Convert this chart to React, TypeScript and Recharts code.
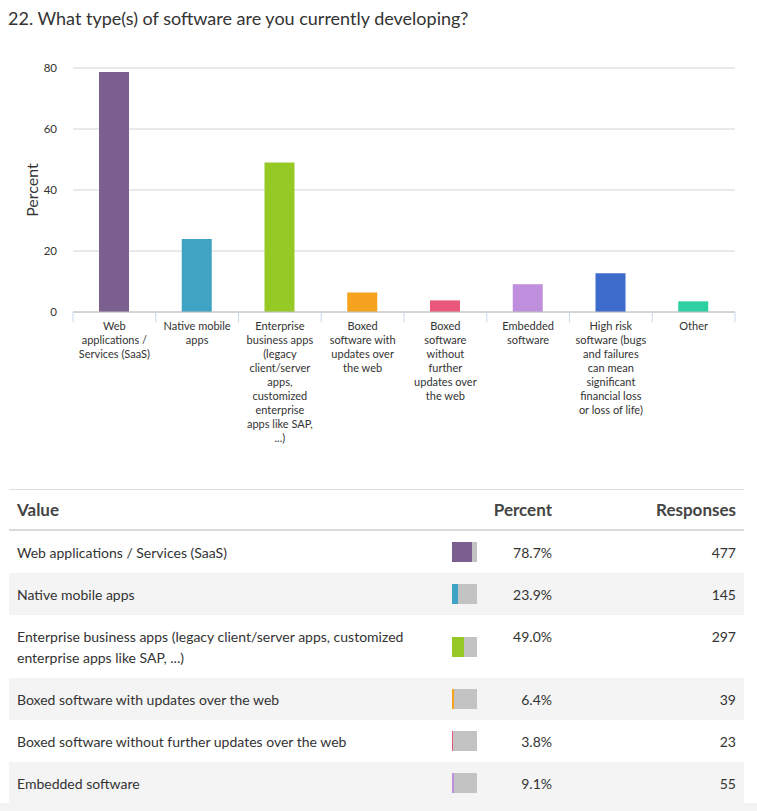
import React from 'react';
import { BarChart, Bar, XAxis, YAxis, CartesianGrid, Cell } from 'recharts';

// Survey question 22 – answer categories, as in the table below the chart
const categories = [
  'Web applications / Services (SaaS)',
  'Native mobile apps',
  'Enterprise business apps (legacy client/server apps, customized enterprise apps like SAP, ...)',
  'Boxed software with updates over the web',
  'Boxed software without further updates over the web',
  'Embedded software',
  'High risk software (bugs and failures can mean significant financial loss or loss of life)',
  'Other',
];

// wrapped x-axis tick labels (one array of lines per category)
const tickLines = [
  ['Web', 'applications /', 'Services (SaaS)'],
  ['Native mobile', 'apps'],
  ['Enterprise', 'business apps', '(legacy', 'client/server', 'apps,', 'customized', 'enterprise', 'apps like SAP,', '...)'],
  ['Boxed', 'software with', 'updates over', 'the web'],
  ['Boxed', 'software', 'without', 'further', 'updates over', 'the web'],
  ['Embedded', 'software'],
  ['High risk', 'software (bugs', 'and failures', 'can mean', 'significant', 'financial loss', 'or loss of life)'],
  ['Other'],
];

const percents = [78.7, 23.9, 49.0, 6.4, 3.8, 9.1, 12.7, 3.5];
const responses = [477, 145, 297, 39, 23, 55, 77, 21];
const colors = ['#7b5f8e', '#3fa3c3', '#96c926', '#f5a31e', '#e9587b', '#bf8fdd', '#3c6bcc', '#2ecfa1'];
const yTicks = [0, 20, 40, 60, 80];

// the screenshot is cropped: only the first 6 table rows are in view
const VISIBLE_ROWS = 6;

const FONT = 'Lato, "Open Sans", sans-serif';
const TEXT = '#333333';

const chartData = categories.map((name, i) => ({
  name,
  percent: percents[i],
  color: colors[i],
}));

// tick label with wrapped lines + tick marks on the category boundaries
const CategoryTick = (props: any) => {
  const { x, y, payload, index } = props;
  const half = payload?.offset ? payload.offset : 662 / categories.length / 2;
  const lines = tickLines[index] ?? [String(payload.value)];
  const isLast = index === categories.length - 1;
  return (
    <g>
      <line x1={x - half} x2={x - half} y1={y} y2={y + 10} stroke="#ccd6eb" />
      {isLast && <line x1={x + half} x2={x + half} y1={y} y2={y + 10} stroke="#ccd6eb" />}
      <text x={x} y={y + 18} textAnchor="middle" fill={TEXT} fontSize={11} fontFamily={FONT}>
        {lines.map((ln, i) => (
          <tspan key={i} x={x} dy={i === 0 ? 0 : 14}>
            {ln}
          </tspan>
        ))}
      </text>
    </g>
  );
};

const YLabel = (props: any) => {
  const vb = props.viewBox || {};
  const cx = (vb.x ?? 20) + 11;
  const cy = (vb.y ?? 18) + (vb.height ?? 244) / 2;
  return (
    <text
      x={cx}
      y={cy}
      transform={`rotate(-90, ${cx}, ${cy})`}
      textAnchor="middle"
      dominantBaseline="central"
      fill={TEXT}
      fontSize={16}
      fontFamily={FONT}
    >
      Percent
    </text>
  );
};

const MiniBar = ({ pct, color }: { pct: number; color: string }) => (
  <div style={{ width: 25, height: 20, background: '#c3c3c3', position: 'relative' }}>
    <div style={{ position: 'absolute', left: 0, top: 0, bottom: 0, width: `${pct}%`, background: color }} />
  </div>
);

const App: React.FC = () => {
  return (
    <div style={{ position: 'relative', width: 757, height: 811, overflow: 'hidden', background: '#fff', fontFamily: FONT, color: TEXT }}>
      <style>{`body{margin:0;overflow:hidden;}`}</style>

      <div style={{ position: 'absolute', left: 8, top: 6, fontSize: 18, lineHeight: '24px', color: TEXT }}>
        22. What type(s) of software are you currently developing?
      </div>

      <div style={{ position: 'absolute', left: 0, top: 50 }}>
        <BarChart
          width={757}
          height={400}
          data={chartData}
          margin={{ top: 18, right: 22, left: 20, bottom: 8 }}
        >
          <CartesianGrid vertical={false} stroke="#d4d4d4" />
          <XAxis
            dataKey="name"
            interval={0}
            height={130}
            tickSize={0}
            tickMargin={0}
            tickLine={false}
            axisLine={{ stroke: '#c0c0c0' }}
            tick={<CategoryTick />}
          />
          <YAxis
            width={53}
            domain={[0, 80]}
            ticks={yTicks}
            axisLine={false}
            tickLine={false}
            tickSize={8}
            tickMargin={8}
            tick={{ fill: TEXT, fontSize: 11.5, fontFamily: FONT }}
            label={<YLabel />}
          />
          <Bar dataKey="percent" barSize={30} isAnimationActive={false}>
            {chartData.map((entry, index) => (
              <Cell key={`cell-${index}`} fill={entry.color} />
            ))}
          </Bar>
        </BarChart>
      </div>

      {/* page background below the cropped table */}
      <div style={{ position: 'absolute', left: 0, right: 0, top: 803, bottom: 0, background: '#f3f3f3' }} />

      {/* summary table */}
      <div style={{ position: 'absolute', left: 9, top: 489, width: 735 }}>
        <div
          style={{
            position: 'relative',
            height: 39,
            borderTop: '1px solid #dedede',
            borderBottom: '2px solid #dadada',
            fontSize: 17,
            fontWeight: 700,
            color: '#444',
            lineHeight: '39px',
          }}
        >
          <span style={{ position: 'absolute', left: 8 }}>Value</span>
          <span style={{ position: 'absolute', right: 192 }}>Percent</span>
          <span style={{ position: 'absolute', right: 8 }}>Responses</span>
        </div>
        {categories.slice(0, VISIBLE_ROWS).map((name, i) => (
          <div
            key={name}
            style={{
              position: 'relative',
              padding: '10.5px 0',
              background: i % 2 === 1 ? '#f4f4f4' : '#ffffff',
              fontSize: 14,
              lineHeight: '21px',
            }}
          >
            <div style={{ marginLeft: 8, width: 420 }}>{name}</div>
            <div style={{ position: 'absolute', left: 443, top: '50%', transform: 'translateY(-50%)' }}>
              <MiniBar pct={percents[i]} color={colors[i]} />
            </div>
            <div style={{ position: 'absolute', right: 192, top: 10.5 }}>{percents[i].toFixed(1)}%</div>
            <div style={{ position: 'absolute', right: 8, top: 10.5 }}>{responses[i]}</div>
          </div>
        ))}
      </div>
    </div>
  );
};

export default App;
